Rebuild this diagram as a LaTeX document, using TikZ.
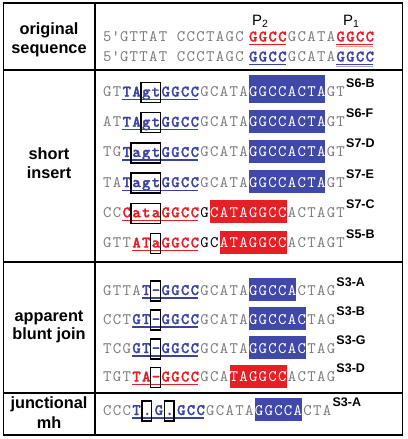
\documentclass[tikz,border=0pt]{standalone}
\usepackage{fontspec}
\setmainfont{Liberation Sans}
\newfontfamily\monof{lmmono10-regular}[Extension=.otf, BoldFont=lmmonolt10-bold, BoldFeatures={FakeBold=1.6}, LetterSpace=8.25]
\usetikzlibrary{calc}
\definecolor{seqgray}{RGB}{125,125,125}
\definecolor{seqblue}{RGB}{58,68,160}
\definecolor{hlblue}{RGB}{64,72,168}
\definecolor{seqred}{RGB}{228,30,38}
\definecolor{hlred}{RGB}{230,30,37}
\newcommand\cw{9.72}
\newcommand\xz{103}
\tikzset{
  seqtext/.style={inner sep=0pt, anchor=base west, font=\monof\fontsize{16}{18}\selectfont},
  gtxt/.style={seqtext, text=seqgray},
  ktxt/.style={seqtext, text=black},
  btxt/.style={seqtext, text=seqblue, font=\monof\bfseries\fontsize{16}{18}\selectfont},
  rtxt/.style={seqtext, text=seqred, font=\monof\bfseries\fontsize{16}{18}\selectfont},
  hbtxt/.style={seqtext, text=white, fill=hlblue, text height=17pt, text depth=6pt},
  hrtxt/.style={seqtext, text=white, fill=hlred, text height=17pt, text depth=6pt},
  ulb/.style={draw=seqblue, line width=1.2pt},
  ulr/.style={draw=seqred, line width=1.2pt},
  insbox/.style={draw=black, line width=1.4pt},
  lbl/.style={inner sep=0pt, anchor=base west, font=\bfseries\fontsize{12.5}{14}\selectfont},
  rowlbl/.style={align=center, inner sep=0pt, font=\bfseries\fontsize{16.3}{18.5}\selectfont},
  plbl/.style={inner sep=0pt, anchor=base west, font=\fontsize{15}{17}\selectfont},
  frame/.style={line width=1.4pt},
}
% segment: name, baseline y, char index, style, text
\newcommand\sg[5]{\node[#4] (#1) at ({\xz+#3*\cw},#2) {#5};}
% underline from node #1 to node #2 with style #3
\newcommand\ul[3]{\draw[#3] ($(#1.base west)+(0,3)$) -- ($(#2.base east)+(-1.2,3)$);}
% box round a node
\newcommand\bx[1]{\draw[insbox] ($(#1.base west)+(-1,-14)$) rectangle ($(#1.base east)+(0,6)$);}
\begin{document}
\begin{tikzpicture}[x=1pt,y=-1pt]
\useasboundingbox (0,0) rectangle (407,439);
% frame
\draw[frame] (3.5,3) rectangle (402.5,435);
\draw[frame] (95,3) -- (95,435);
\draw[frame] (3.5,70) -- (402.5,70);
\draw[frame] (3.5,262) -- (402.5,262);
\draw[frame] (3.5,393) -- (402.5,393);
% row labels
\node[rowlbl] (lorig) at (49,40) {original\\sequence};
\node[rowlbl] (lshort) at (49,163) {short\\insert};
\node[rowlbl] (lblunt) at (49,327) {apparent\\blunt join};
\node[rowlbl, font=\bfseries\fontsize{16.3}{20}\selectfont] (ljunc) at (49,413) {junctional\\mh};
% original sequence
\node[plbl] (p2) at (252,25) {P\textsubscript{2}};
\node[plbl] (p1) at (343,25) {P\textsubscript{1}};
\sg{oa1}{41.5}{0}{gtxt}{5\textquotesingle GTTAT CCCTAGC}
\sg{oa2}{41.5}{15}{rtxt}{GGCC}
\sg{oa3}{41.5}{19}{gtxt}{GCATA}
\sg{oa4}{41.5}{24}{rtxt}{GGCC}
\ul{oa2}{oa2}{ulr}
\draw[draw=seqred, line width=0.9pt] ($(oa4.base west)+(0,2.6)$) -- ($(oa4.base east)+(-1.2,2.6)$);
\draw[draw=seqred!45, line width=0.9pt] ($(oa4.base west)+(0,4.8)$) -- ($(oa4.base east)+(-1.2,4.8)$);
\sg{ob1}{61.5}{0}{gtxt}{5\textquotesingle GTTAT CCCTAGC}
\sg{ob2}{61.5}{15}{btxt}{GGCC}
\sg{ob3}{61.5}{19}{gtxt}{GCATA}
\sg{ob4}{61.5}{24}{btxt}{GGCC}
\ul{ob2}{ob2}{ulb}
\draw[draw=seqblue, line width=0.9pt] ($(ob4.base west)+(0,2.6)$) -- ($(ob4.base east)+(-1.2,2.6)$);
\draw[draw=seqblue!45, line width=0.9pt] ($(ob4.base west)+(0,4.8)$) -- ($(ob4.base east)+(-1.2,4.8)$);
% S6-B
\sg{a1}{96.5}{0}{gtxt}{GT}
\sg{a2}{96.5}{2}{btxt}{TA}
\sg{a3}{96.5}{4}{btxt}{gt}
\sg{a4}{96.5}{6}{btxt}{GGCC}
\sg{a5}{96.5}{10}{gtxt}{GCATA}
\sg{a6}{96.5}{15}{hbtxt, text height=21.5pt, text depth=6.5pt}{GGCCACTA}
\sg{a7}{96.5}{23}{gtxt}{GT}
\node[lbl] (a8) at ({\xz+25*\cw},87.5) {S6-B};
\ul{a2}{a4}{ulb} \bx{a3}
% S6-F
\sg{b1}{126.7}{0}{gtxt}{AT}
\sg{b2}{126.7}{2}{btxt}{TA}
\sg{b3}{126.7}{4}{btxt}{gt}
\sg{b4}{126.7}{6}{btxt}{GGCC}
\sg{b5}{126.7}{10}{gtxt}{GCATA}
\sg{b6}{126.7}{15}{hbtxt}{GGCCACTA}
\sg{b7}{126.7}{23}{gtxt}{GT}
\node[lbl] (b8) at ({\xz+25*\cw},117.7) {S6-F};
\ul{b2}{b4}{ulb} \bx{b3}
% S7-D
\sg{c1}{156.9}{0}{gtxt}{TG}
\sg{c2}{156.9}{2}{btxt}{T}
\sg{c3}{156.9}{3}{btxt}{agt}
\sg{c4}{156.9}{6}{btxt}{GGCC}
\sg{c5}{156.9}{10}{gtxt}{GCATA}
\sg{c6}{156.9}{15}{hbtxt}{GGCCACTA}
\sg{c7}{156.9}{23}{gtxt}{GT}
\node[lbl] (c8) at ({\xz+25*\cw},147.9) {S7-D};
\ul{c2}{c4}{ulb} \bx{c3}
% S7-E
\sg{d1}{187.1}{0}{gtxt}{TA}
\sg{d2}{187.1}{2}{btxt}{T}
\sg{d3}{187.1}{3}{btxt}{agt}
\sg{d4}{187.1}{6}{btxt}{GGCC}
\sg{d5}{187.1}{10}{gtxt}{GCATA}
\sg{d6}{187.1}{15}{hbtxt}{GGCCACTA}
\sg{d7}{187.1}{23}{gtxt}{GT}
\node[lbl] (d8) at ({\xz+25*\cw},178.1) {S7-E};
\ul{d2}{d4}{ulb} \bx{d3}
% S7-C
\sg{e1}{217.3}{0}{gtxt}{CC}
\sg{e2}{217.3}{2}{rtxt}{C}
\sg{e3}{217.3}{3}{rtxt}{ata}
\sg{e4}{217.3}{6}{rtxt}{GGCC}
\sg{e5}{217.3}{10}{ktxt}{G}
\sg{e6}{217.3}{11}{hrtxt}{CATAGGCC}
\sg{e7}{217.3}{19}{gtxt}{ACTAGT}
\node[lbl] (e8) at ({\xz+25*\cw},208.3) {S7-C};
\ul{e2}{e4}{ulr} \bx{e3}
% S5-B
\sg{f1}{247.5}{0}{gtxt}{GTT}
\sg{f2}{247.5}{3}{rtxt}{AT}
\sg{f3}{247.5}{5}{rtxt}{a}
\sg{f4}{247.5}{6}{rtxt}{GGCC}
\sg{f5}{247.5}{10}{ktxt}{GC}
\sg{f6}{247.5}{12}{hrtxt}{ATAGGCC}
\sg{f7}{247.5}{19}{gtxt}{ACTAGT}
\node[lbl] (f8) at ({\xz+25*\cw},238.5) {S5-B};
\ul{f2}{f4}{ulr} \bx{f3}
% S3-A
\sg{g1}{295}{0}{gtxt}{GTTA}
\sg{g2}{295}{4}{btxt}{T}
\sg{g3}{295}{5}{btxt}{-}
\sg{g4}{295}{6}{btxt}{GGCC}
\sg{g5}{295}{10}{gtxt}{GCATA}
\sg{g6}{295}{15}{hbtxt}{GGCCA}
\sg{g7}{295}{20}{gtxt}{CTAG}
\node[lbl] (g8) at ({\xz+24*\cw},286) {S3-A};
\ul{g2}{g4}{ulb} \bx{g3}
% S3-B
\sg{h1}{324}{0}{gtxt}{CCT}
\sg{h2}{324}{3}{btxt}{GT}
\sg{h3}{324}{5}{btxt}{-}
\sg{h4}{324}{6}{btxt}{GGCC}
\sg{h5}{324}{10}{gtxt}{GCATA}
\sg{h6}{324}{15}{hbtxt}{GGCCAC}
\sg{h7}{324}{21}{gtxt}{TAG}
\node[lbl] (h8) at ({\xz+24*\cw},315) {S3-B};
\ul{h2}{h4}{ulb} \bx{h3}
% S3-G
\sg{i1}{353}{0}{gtxt}{TCG}
\sg{i2}{353}{3}{btxt}{GT}
\sg{i3}{353}{5}{btxt}{-}
\sg{i4}{353}{6}{btxt}{GGCC}
\sg{i5}{353}{10}{gtxt}{GCATA}
\sg{i6}{353}{15}{hbtxt}{GGCCAC}
\sg{i7}{353}{21}{gtxt}{TAG}
\node[lbl] (i8) at ({\xz+24*\cw},344) {S3-G};
\ul{i2}{i4}{ulb} \bx{i3}
% S3-D
\sg{j1}{381.5}{0}{gtxt}{TGT}
\sg{j2}{381.5}{3}{rtxt}{TA}
\sg{j3}{381.5}{5}{rtxt}{-}
\sg{j4}{381.5}{6}{rtxt}{GGCC}
\sg{j5}{381.5}{10}{gtxt}{GCA}
\sg{j6}{381.5}{13}{hrtxt}{TAGGCC}
\sg{j7}{381.5}{19}{gtxt}{ACTAG}
\node[lbl] (j8) at ({\xz+24*\cw},372.5) {S3-D};
\ul{j2}{j4}{ulr} \bx{j3}
% junctional S3-A
\sg{k1}{415}{0}{gtxt}{CCC}
\sg{k2}{415}{3}{btxt}{T}
\sg{k3}{415}{4.1}{btxt}{.}
\sg{k4}{415}{5.3}{btxt}{G}
\sg{k5}{415}{6.4}{btxt}{.}
\sg{k6}{415}{7.6}{btxt}{GCC}
\sg{k7}{415}{10.6}{gtxt}{GCATA}
\sg{k8}{415}{15.6}{hbtxt}{GGCCA}
\sg{k9}{415}{20.6}{gtxt}{CTA}
\node[lbl] (k10) at ({\xz+23.6*\cw},406) {S3-A};
\ul{k2}{k6}{ulb} \bx{k3} \bx{k5}
\end{tikzpicture}
\end{document}
